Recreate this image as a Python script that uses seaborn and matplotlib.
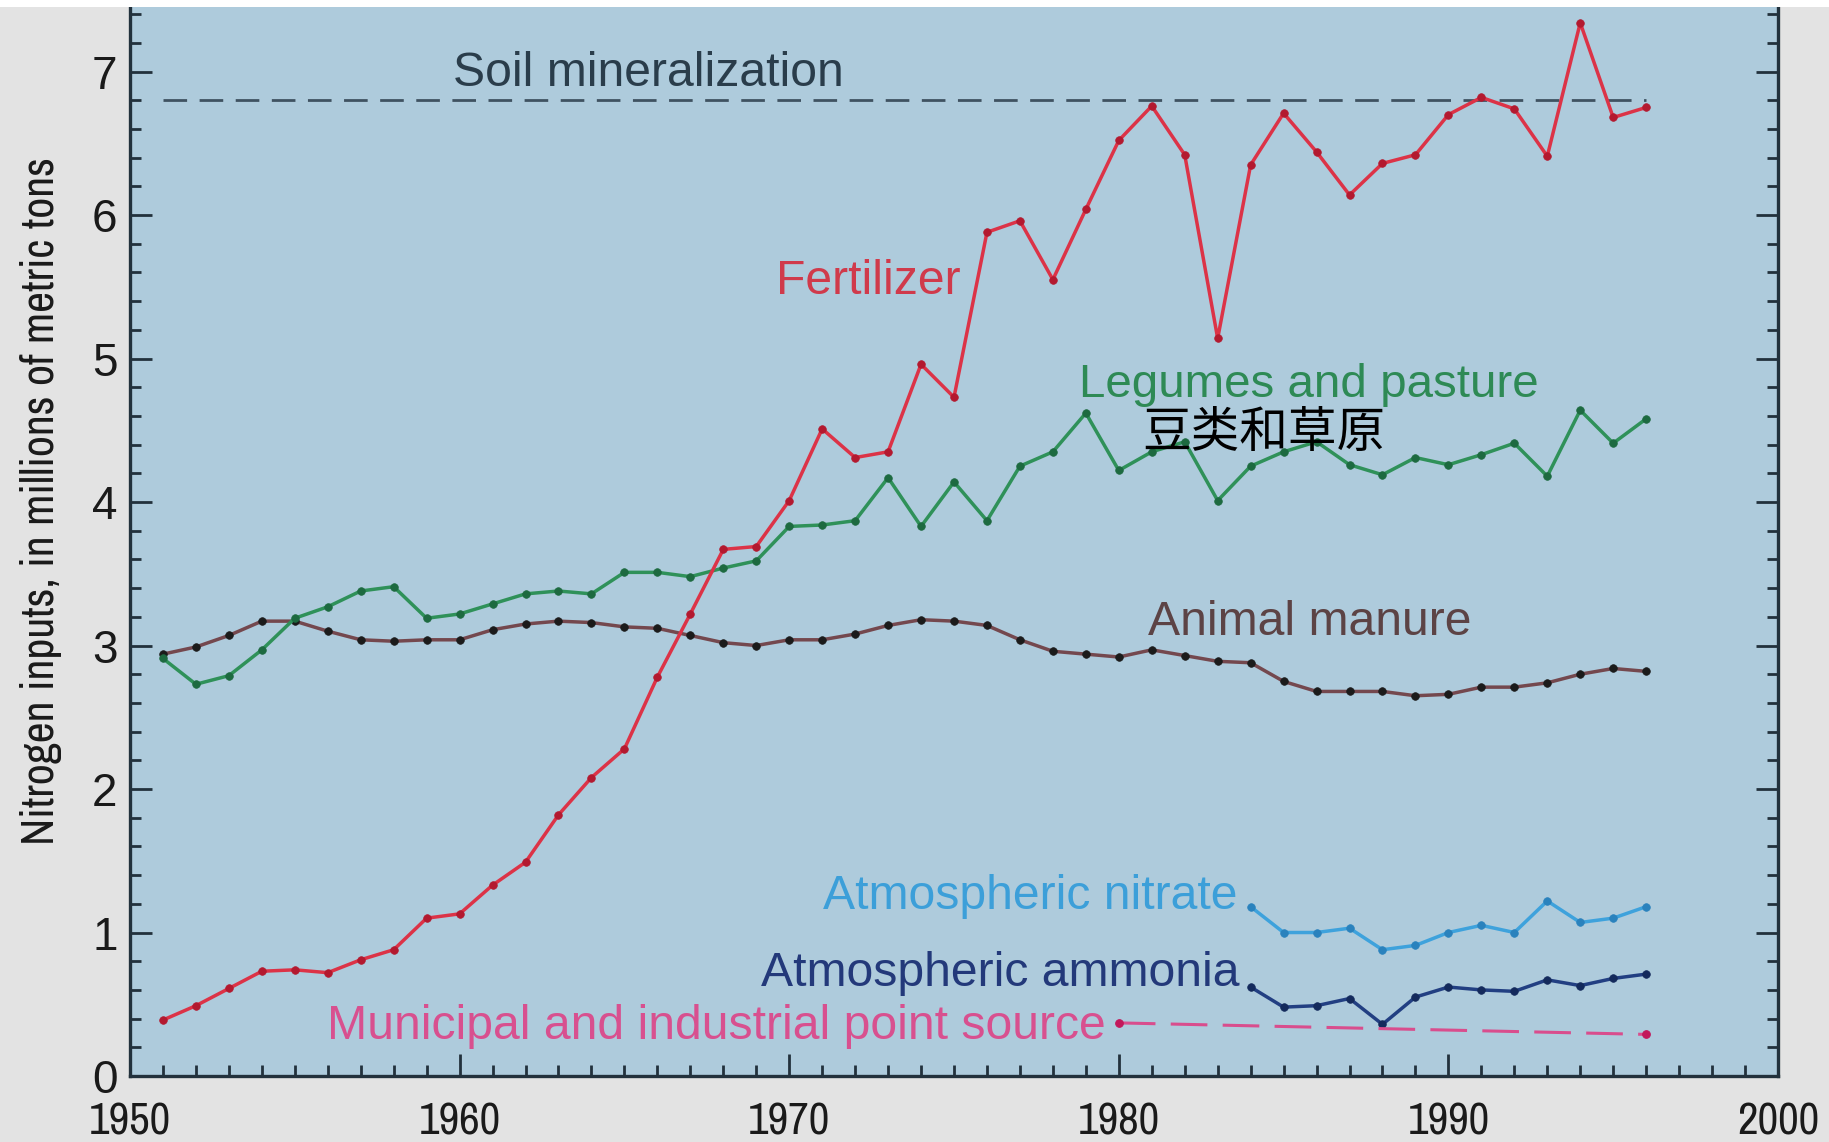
import matplotlib
matplotlib.use("Agg")
import matplotlib.pyplot as plt
import seaborn as sns
from matplotlib import font_manager as fm
from matplotlib.ticker import MultipleLocator, FixedLocator
from matplotlib.patches import Rectangle

# ---- data: nitrogen inputs, millions of metric tons ----
years = list(range(1951, 1997))
fertilizer = [0.39, 0.49, 0.61, 0.73, 0.74, 0.72, 0.81, 0.88, 1.10, 1.13,
              1.33, 1.49, 1.82, 2.08, 2.28, 2.78, 3.22, 3.67, 3.69, 4.01,
              4.51, 4.31, 4.35, 4.96, 4.73, 5.88, 5.96, 5.55, 6.04, 6.52,
              6.76, 6.42, 5.14, 6.35, 6.71, 6.44, 6.14, 6.36, 6.42, 6.70,
              6.82, 6.74, 6.41, 7.34, 6.68, 6.75]
legumes = [2.91, 2.73, 2.79, 2.97, 3.19, 3.27, 3.38, 3.41, 3.19, 3.22,
           3.29, 3.36, 3.38, 3.36, 3.51, 3.51, 3.48, 3.54, 3.59, 3.83,
           3.84, 3.87, 4.17, 3.83, 4.14, 3.87, 4.25, 4.35, 4.62, 4.22,
           4.35, 4.42, 4.01, 4.25, 4.35, 4.42, 4.26, 4.19, 4.31, 4.26,
           4.33, 4.41, 4.18, 4.64, 4.41, 4.58]
manure = [2.94, 2.99, 3.07, 3.17, 3.17, 3.10, 3.04, 3.03, 3.04, 3.04,
          3.11, 3.15, 3.17, 3.16, 3.13, 3.12, 3.07, 3.02, 3.00, 3.04,
          3.04, 3.08, 3.14, 3.18, 3.17, 3.14, 3.04, 2.96, 2.94, 2.92,
          2.97, 2.93, 2.89, 2.88, 2.75, 2.68, 2.68, 2.68, 2.65, 2.66,
          2.71, 2.71, 2.74, 2.80, 2.84, 2.82]
atm_years = list(range(1984, 1997))
atm_nitrate = [1.18, 1.00, 1.00, 1.03, 0.88, 0.91, 1.00, 1.05, 1.00, 1.22,
               1.07, 1.10, 1.18]
atm_ammonia = [0.62, 0.48, 0.49, 0.54, 0.36, 0.55, 0.62, 0.60, 0.59, 0.67,
               0.63, 0.68, 0.71]
point_years = [1980, 1996]
point_source = [0.37, 0.29]
soil_years = [1951, 1996]
soil_mineralization = [6.80, 6.80]

x_ticks = [1950, 1960, 1970, 1980, 1990, 2000]
y_ticks = [0, 1, 2, 3, 4, 5, 6, 7]
y_label = "Nitrogen inputs, in millions of metric tons"

# ---- fonts: a narrow face for the axis text when one is installed ----
sans = ["Liberation Sans", "DejaVu Sans"]
narrow_font = None
for f in fm.fontManager.ttflist:
    if ("Narrow" in f.name or "Condensed" in f.name) and f.weight in (400, "normal", "regular"):
        narrow_font = dict(family=[f.name, "DejaVu Sans"], stretch=f.stretch)
        break
if narrow_font is None:
    for f in fm.fontManager.ttflist:
        if f.stretch in ("condensed", "semi-condensed") and f.style == "normal":
            narrow_font = dict(family=[f.name, "DejaVu Sans"], stretch=f.stretch)
            break
if narrow_font is not None:
    xtick_font, xtick_size = narrow_font, 32.5
    ylab_font, ylab_size = narrow_font, 33
else:
    xtick_font, xtick_size = dict(family=sans), 28
    ylab_font, ylab_size = dict(family=sans), 27.5

# ---- figure ----
W, H = 1829, 1142
fig = plt.figure(figsize=(W / 100, H / 100), dpi=100, facecolor="#e3e3e3")
fig.patches.append(Rectangle((0, 1 - 7 / H), 1, 7 / H, transform=fig.transFigure,
                             facecolor="white", edgecolor="none"))
ax = fig.add_axes([130 / W, 66 / H, 1648 / W, 1069 / H])
ax.set_facecolor("#aecbdc")


def series(x, y, line, mark, **kw):
    sns.lineplot(x=x, y=y, ax=ax, color=line, lw=2.5, marker="o", markersize=5.5,
                 markerfacecolor=mark, markeredgecolor=mark, markeredgewidth=0.5,
                 **kw)


# soil mineralization (dashed reference level)
sns.lineplot(x=soil_years, y=soil_mineralization, ax=ax, color="#3f5261", lw=2.0,
             linestyle=(0, (8.5, 4.5)))
series(years, manure, "#74484e", "#1b1b1b")
series(years, legumes, "#2f9159", "#1d6a40")
series(years, fertilizer, "#dc3347", "#b3192f")
series(atm_years, atm_nitrate, "#3ea2dc", "#2a82bd")
series(atm_years, atm_ammonia, "#223f82", "#142a5c")
sns.lineplot(x=point_years, y=point_source, ax=ax, color="#d94d8d", lw=2.2,
             linestyle=(0, (12, 5)), marker="o", markersize=5.5,
             markerfacecolor="#c2185b", markeredgecolor="#c2185b")

# ---- series labels ----
fs = 34.7
ax.text(1959.8, 6.90, "Soil mineralization", color="#2a3d4b", fontsize=fs,
        family=sans, ha="left", va="baseline")
ax.text(1969.6, 5.45, "Fertilizer", color="#d03a4b", fontsize=fs,
        family=sans, ha="left", va="baseline")
ax.text(1978.8, 4.73, "Legumes and pasture", color="#2e8a55", fontsize=34.2,
        family=sans, ha="left", va="baseline")
ax.text(1980.7, 4.48, "豆类和草原", color="black", fontsize=35,
        family=["Noto Sans CJK SC", "DejaVu Sans"], ha="left", va="center")
ax.text(1980.9, 3.07, "Animal manure", color="#5c4345", fontsize=fs,
        family=sans, ha="left", va="baseline")
ax.text(1983.6, 1.165, "Atmospheric nitrate", color="#3c9fd9", fontsize=fs,
        family=sans, ha="right", va="baseline")
ax.text(1983.65, 0.63, "Atmospheric ammonia", color="#23397a", fontsize=fs,
        family=sans, ha="right", va="baseline")
ax.text(1979.6, 0.26, "Municipal and industrial point source", color="#d8508f",
        fontsize=fs, family=sans, ha="right", va="baseline")

# ---- axes ----
ax.set_xlim(1950, 2000)
ax.set_ylim(0, 7.45)
ax.xaxis.set_major_locator(FixedLocator(x_ticks))
ax.xaxis.set_minor_locator(MultipleLocator(1))
ax.yaxis.set_major_locator(FixedLocator(y_ticks))
ax.yaxis.set_minor_locator(MultipleLocator(0.2))
ax.set_xticklabels([str(t) for t in x_ticks])
ax.set_yticklabels([str(t) for t in y_ticks])

spine_c = "#22313c"
for side in ("left", "bottom", "right"):
    ax.spines[side].set_color(spine_c)
    ax.spines[side].set_linewidth(2.4)
ax.spines["top"].set_visible(False)

ax.tick_params(axis="both", which="both", direction="in", color=spine_c)
ax.tick_params(axis="y", which="both", left=True, right=True)
ax.tick_params(axis="x", which="both", top=False)
ax.tick_params(which="major", length=16, width=2)
ax.tick_params(which="minor", length=8, width=2)
ax.tick_params(axis="x", which="major", pad=19, labelsize=xtick_size)
ax.tick_params(axis="y", which="major", pad=9, labelsize=33)
for lab in ax.get_xticklabels():
    lab.set_family(xtick_font["family"])
    if "stretch" in xtick_font:
        lab.set_fontstretch(xtick_font["stretch"])
    lab.set_color("#1a1a1a")
for lab in ax.get_yticklabels():
    lab.set_family(sans)
    lab.set_color("#1a1a1a")

ax.set_xlabel("")
ax.set_ylabel("")
fig.text(41 / W, 1 - 501 / H, y_label, rotation=90, ha="center", va="center",
         fontsize=ylab_size, color="#1a1a1a", **ylab_font)

fig.savefig("out.png", dpi=100, facecolor=fig.get_facecolor())
